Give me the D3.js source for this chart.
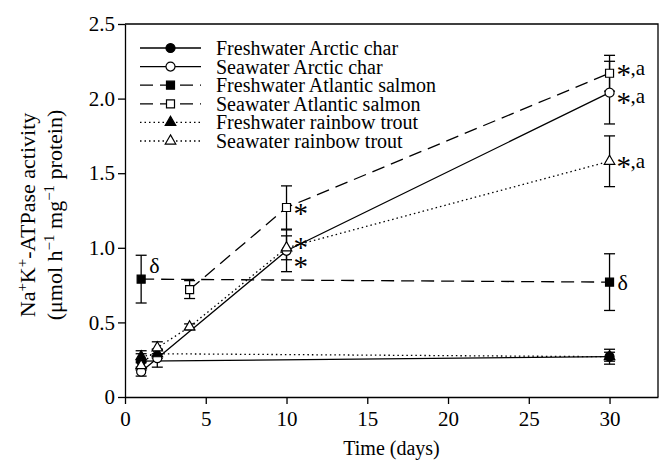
<!DOCTYPE html>
<html>
<head>
<meta charset="utf-8">
<script src="https://cdn.jsdelivr.net/npm/d3@7/dist/d3.min.js"></script>
<style>
  body { margin: 0; background: #fff; }
  text { font-family: "Liberation Serif", "Times New Roman", serif; fill: #000; }
</style>
</head>
<body>
<div id="chart"></div>
<script>
// values (mean and error bar half-length)
var fwCharDays = [1, 30],           fwCharMean = [0.24, 0.27],                fwCharErr = [0.05, 0.05];
var swCharDays = [1, 2, 10, 30],    swCharMean = [0.17, 0.26, 0.98, 2.04],    swCharErr = [0.03, 0.06, 0.14, 0.21];
var fwSalmonDays = [1, 30],         fwSalmonMean = [0.79, 0.77],              fwSalmonErr = [0.16, 0.19];
var swSalmonDays = [4, 10, 30],     swSalmonMean = [0.72, 1.27, 2.17],        swSalmonErr = [0.06, 0.145, 0.12];
var fwTroutDays = [1, 2, 30],       fwTroutMean = [0.27, 0.29, 0.27],         fwTroutErr = [0.04, 0.03, 0.03];
var swTroutDays = [1, 2, 4, 10, 30], swTroutMean = [0.21, 0.33, 0.47, 1.0, 1.58], swTroutErr = [0.03, 0.04, 0.02, 0.08, 0.17];

var seriesNames = ["Freshwater Arctic char", "Seawater Arctic char", "Freshwater Atlantic salmon",
                   "Seawater Atlantic salmon", "Freshwater rainbow trout", "Seawater rainbow trout"];

var xTicks = [0, 5, 10, 15, 20, 25, 30];
var yTicks = [0, 0.5, 1.0, 1.5, 2.0, 2.5];
var yTickLabels = ["0", "0.5", "1.0", "1.5", "2.0", "2.5"];

// significance marks: [day, value, suffix]
var marks = [
  [10, 1.27, ""], [10, 1.04, ""], [10, 0.91, ""],
  [30, 2.20, ",a"], [30, 2.01, ",a"], [30, 1.58, ",a"]
];
var deltaMarks = [[1, 0.88], [30, 0.77]];

// styles
var styles = [
  {shape: d3.symbolCircle, size: 64, fill: "#000", dash: null},
  {shape: d3.symbolCircle, size: 64, fill: "#fff", dash: null},
  {shape: d3.symbolSquare, size: 64, fill: "#000", dash: "13,7"},
  {shape: d3.symbolSquare, size: 64, fill: "#fff", dash: "13,7"},
  {shape: d3.symbolTriangle, size: 48, fill: "#000", dash: "1.5,3"},
  {shape: d3.symbolTriangle, size: 48, fill: "#fff", dash: "1.5,3"}
];

function build(days, mean, err) {
  return days.map(function(d, i) { return {day: d, value: mean[i], err: err[i]}; });
}
var series = [
  build(fwCharDays, fwCharMean, fwCharErr),
  build(swCharDays, swCharMean, swCharErr),
  build(fwSalmonDays, fwSalmonMean, fwSalmonErr),
  build(swSalmonDays, swSalmonMean, swSalmonErr),
  build(fwTroutDays, fwTroutMean, fwTroutErr),
  build(swTroutDays, swTroutMean, swTroutErr)
];

var W = 660, H = 468;
var margin = {top: 24, right: 2, bottom: 71, left: 125},
    width = W - margin.left - margin.right,
    height = H - margin.top - margin.bottom;

var svg = d3.select("#chart").append("svg")
    .attr("width", W).attr("height", H);
var g = svg.append("g")
    .attr("transform", "translate(" + margin.left + "," + margin.top + ")");

var x = d3.scaleLinear().domain([0, 33]).range([0, width]);
var y = d3.scaleLinear().domain([0, 2.5]).range([height, 0]);

// frame (top and right)
g.append("path")
  .attr("d", "M0,0H" + width + "V" + height)
  .attr("fill", "none").attr("stroke", "#000").attr("stroke-width", 1.3);

// axes
var xAxis = g.append("g")
  .attr("transform", "translate(0," + height + ")")
  .call(d3.axisBottom(x).tickValues(xTicks).tickSize(7).tickPadding(3).tickSizeOuter(0));
var yAxis = g.append("g")
  .call(d3.axisLeft(y).tickValues(yTicks).tickSize(7).tickPadding(3).tickSizeOuter(0)
    .tickFormat(function(d, i) { return yTickLabels[i]; }));
[xAxis, yAxis].forEach(function(a) {
  a.select(".domain").attr("stroke-width", 1.3);
  a.selectAll(".tick line").attr("stroke-width", 1.3);
  a.selectAll("text").attr("font-family", null).style("font-size", "21px");
});
xAxis.selectAll("text").attr("dy", "0.9em");

// lines
var line = d3.line().x(function(d) { return x(d.day); }).y(function(d) { return y(d.value); });
series.forEach(function(s, i) {
  g.append("path").datum(s)
    .attr("d", line)
    .attr("fill", "none").attr("stroke", "#000").attr("stroke-width", 1.3)
    .attr("stroke-dasharray", styles[i].dash);
});

// error bars
series.forEach(function(s) {
  var eb = g.selectAll(null).data(s).enter().append("g")
    .attr("stroke", "#000").attr("stroke-width", 1.3);
  eb.append("line")
    .attr("x1", function(d) { return x(d.day); }).attr("x2", function(d) { return x(d.day); })
    .attr("y1", function(d) { return y(d.value - d.err); }).attr("y2", function(d) { return y(d.value + d.err); });
  eb.append("line")
    .attr("x1", function(d) { return x(d.day) - 5.5; }).attr("x2", function(d) { return x(d.day) + 5.5; })
    .attr("y1", function(d) { return y(d.value + d.err); }).attr("y2", function(d) { return y(d.value + d.err); });
  eb.append("line")
    .attr("x1", function(d) { return x(d.day) - 5.5; }).attr("x2", function(d) { return x(d.day) + 5.5; })
    .attr("y1", function(d) { return y(d.value - d.err); }).attr("y2", function(d) { return y(d.value - d.err); });
});

// markers
series.forEach(function(s, i) {
  g.selectAll(null).data(s).enter().append("path")
    .attr("transform", function(d) { return "translate(" + x(d.day) + "," + y(d.value) + ")"; })
    .attr("d", d3.symbol().type(styles[i].shape).size(styles[i].size))
    .attr("fill", styles[i].fill).attr("stroke", "#000").attr("stroke-width", 1.2);
});

// annotations: large asterisk plus optional ",a"
g.selectAll(null).data(marks).enter().append("text")
  .attr("x", function(d) { return x(d[0]) + 7; })
  .attr("y", function(d) { return y(d[1]) + 15; })
  .style("font-size", "29px")
  .text("*");
g.selectAll(null).data(marks.filter(function(d) { return d[2]; })).enter().append("text")
  .attr("x", function(d) { return x(d[0]) + 21; })
  .attr("y", function(d) { return y(d[1]); })
  .attr("dy", "0.3em")
  .style("font-size", "21px")
  .text(function(d) { return d[2]; });
g.selectAll(null).data(deltaMarks).enter().append("text")
  .attr("x", function(d) { return x(d[0]) + 8; })
  .attr("y", function(d) { return y(d[1]); })
  .attr("dy", "0.35em")
  .style("font-size", "22px")
  .text("δ");

// legend
var legend = svg.append("g").attr("transform", "translate(140,48)");
seriesNames.forEach(function(name, i) {
  var row = legend.append("g").attr("transform", "translate(0," + (i * 18.6) + ")");
  row.append("line").attr("x1", 0).attr("x2", 61).attr("y1", 0).attr("y2", 0)
    .attr("stroke", "#000").attr("stroke-width", 1.3)
    .attr("stroke-dasharray", styles[i].dash);
  row.append("path").attr("transform", "translate(30.5,0)")
    .attr("d", d3.symbol().type(styles[i].shape).size(styles[i].size))
    .attr("fill", styles[i].fill).attr("stroke", "#000").attr("stroke-width", 1.2);
  row.append("text").attr("x", 76).attr("dy", "0.35em")
    .style("font-size", "20px").text(name);
});

// axis titles
svg.append("text")
  .attr("x", margin.left + width / 2).attr("y", 455)
  .attr("text-anchor", "middle").style("font-size", "20px")
  .text("Time (days)");

var yt1 = svg.append("text")
  .attr("transform", "translate(35,215) rotate(-90)")
  .attr("text-anchor", "middle").style("font-size", "22px");
yt1.append("tspan").text("Na");
yt1.append("tspan").attr("baseline-shift", "super").style("font-size", "15px").text("+");
yt1.append("tspan").text("K");
yt1.append("tspan").attr("baseline-shift", "super").style("font-size", "15px").text("+");
yt1.append("tspan").text("-ATPase activity");

var yt2 = svg.append("text")
  .attr("transform", "translate(62,215) rotate(-90)")
  .attr("text-anchor", "middle").style("font-size", "22px");
yt2.append("tspan").text("(μmol h");
yt2.append("tspan").attr("baseline-shift", "super").style("font-size", "15px").text("−1");
yt2.append("tspan").text(" mg");
yt2.append("tspan").attr("baseline-shift", "super").style("font-size", "15px").text("−1");
yt2.append("tspan").text(" protein)");
</script>
</body>
</html>
